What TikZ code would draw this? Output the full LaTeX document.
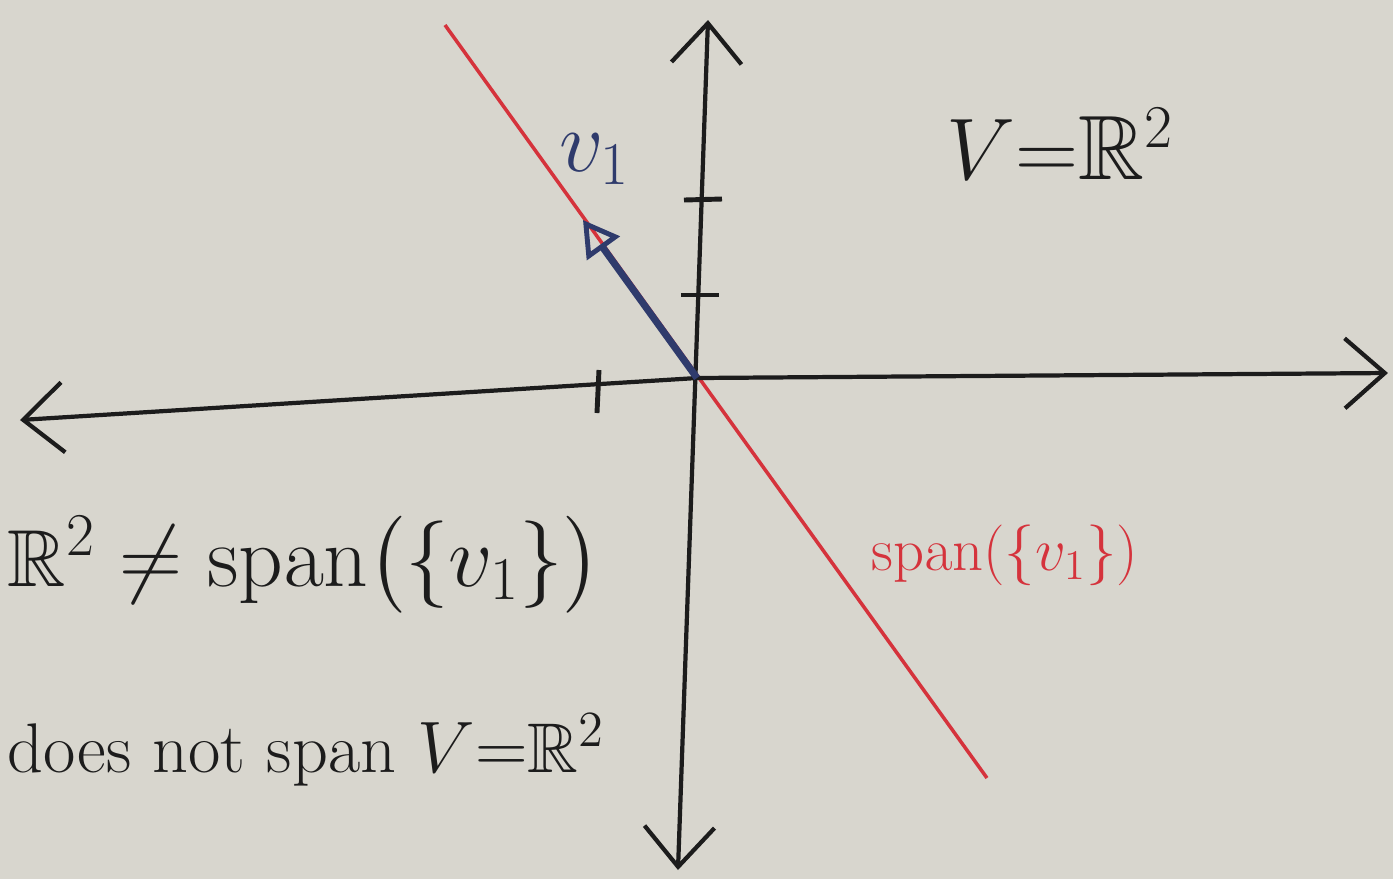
\documentclass[tikz,border=0pt]{standalone}
\usepackage{tikz}
\usetikzlibrary{arrows.meta, positioning}
\usepackage{xcolor}
\usepackage{amsmath}
\usepackage{amssymb}
\definecolor{boardgray}{HTML}{D8D6CE}
\definecolor{inkblack}{HTML}{1C1C1C}
\definecolor{inkred}{HTML}{D5333C}
\definecolor{inkblue}{HTML}{2F3B6C}

\begin{document}
\begin{tikzpicture}[
    axis/.style={{Straight Barb[length=4mm, width=7mm]}-{Straight Barb[length=4mm, width=7mm]}, inkblack, line width=1.2pt},
    tick/.style={inkblack, line width=1.4pt},
    spanline/.style={inkred, line width=1pt},
    vec/.style={-{Triangle[open, length=3.5mm, width=4mm, line width=1.4pt]}, inkblue, line width=2pt},
    bigtext/.style={font=\fontsize{23}{28}\selectfont, text=inkblack, inner sep=0pt}
]
    % Board
    \useasboundingbox (-6.97,-5.01) rectangle (6.96,3.78);
    \fill[boardgray] (-6.97,-5.01) rectangle (6.96,3.78);

    % Points
    \coordinate (O) at (0,0);
    \coordinate (xl) at (-6.77,-0.42);
    \coordinate (xr) at (6.91,0.05);
    \coordinate (yt) at (0.11,3.58);
    \coordinate (yb) at (-0.19,-4.92);
    \coordinate (rl) at (-2.52,3.53);
    \coordinate (rh) at (2.90,-4.00);
    \coordinate (vtip) at (-1.14,1.58);

    % Span line
    \draw[spanline] (rl) -- (rh);

    % Axes
    \draw[axis] (xl) -- (O) -- (xr);
    \draw[axis] (yb) -- (yt);

    % Ticks
    \draw[tick] (-1.00,-0.35) -- (-0.98,0.08);
    \draw[tick] (-0.16,0.83) -- (0.22,0.83);
    \draw[tick] (-0.13,1.78) -- (0.25,1.79);

    % Vector
    \draw[vec] (O) -- (vtip);
    \node[text=inkblue, font=\fontsize{24}{28}\selectfont] (vlab) at (-1.02,2.19) {$v_1$};

    % Labels
    \node[font=\fontsize{26}{30}\selectfont, text=inkblack, inner sep=0pt] (space) at (3.63,2.34) {$V{=}\mathbb{R}^2$};
    \node[text=inkred, font=\fontsize{18}{22}\selectfont, inner sep=0pt] (spanlab) at (3.08,-1.77) {$\operatorname{span}(\{v_1\})$};
    \node[bigtext, anchor=west] (neq) at (-6.90,-1.87) {$\mathbb{R}^2\neq\operatorname{span}\bigl(\{v_1\}\bigr)$};
    \node[bigtext, font=\fontsize{20}{24}\selectfont, anchor=west] (note) at (-6.90,-3.72) {does not span $V{=}\mathbb{R}^2$};
\end{tikzpicture}
\end{document}
